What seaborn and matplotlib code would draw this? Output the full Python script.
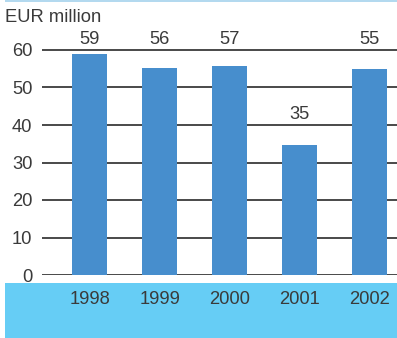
import matplotlib
matplotlib.use("Agg")
import matplotlib.pyplot as plt
import seaborn as sns
import pandas as pd
from matplotlib.patches import Rectangle

years = ["1998", "1999", "2000", "2001", "2002"]
bar_values = [58.9, 55.2, 55.7, 34.7, 54.9]
labels = [59, 56, 57, 35, 55]
yticks = [0, 10, 20, 30, 40, 50, 60]

sns.set_theme(style="white")
plt.rcParams["font.family"] = ["Liberation Sans", "DejaVu Sans"]

W, H = 397, 338
FS = 13.2
TC = "#3a3a3a"
fig = plt.figure(figsize=(W / 100, H / 100), dpi=100)
fig.patch.set_facecolor("white")

def px(x0, y0, x1, y1):
    return [x0 / W, 1 - y1 / H, (x1 - x0) / W, (y1 - y0) / H]

# decorations
fig.add_artist(Rectangle((5 / W, 0), 1 - 5 / W, 55 / H, transform=fig.transFigure,
                         facecolor="#66cdf5", edgecolor="none", zorder=0))
fig.add_artist(Rectangle((5 / W, 1 - 2 / H), 1 - 5 / W, 2 / H, transform=fig.transFigure,
                         facecolor="#b3d9ef", edgecolor="none", zorder=0))

ax = fig.add_axes(px(42, 30, 397, 275))
ax.set_facecolor("none")
df = pd.DataFrame({"year": years, "value": bar_values})
sns.barplot(data=df, x="year", y="value", color="#478ecd", width=0.5,
            saturation=1, ax=ax, zorder=3)
for p in ax.patches:
    p.set_edgecolor("none")

ax.set_ylim(0, 245 / 3.75)
ax.set_xlim(-0.686, 4.4)
ax.set_yticks(yticks)
ax.yaxis.grid(True, color="#3a3a3a", linewidth=1.3)
ax.set_axisbelow(True)
for s in ax.spines.values():
    s.set_visible(False)
ax.set_xlabel("")
ax.set_ylabel("")
ax.tick_params(axis="y", length=0, pad=7.0, labelsize=FS, labelcolor=TC)
ax.tick_params(axis="x", length=0, pad=11.5, labelsize=FS, labelcolor=TC)

for i, (v, lab) in enumerate(zip(bar_values, labels)):
    ax.text(i, min(v + 8.2, 62.8), str(lab), ha="center", va="center",
            fontsize=FS, color=TC)

fig.text(5 / W, 1 - 18 / H, "EUR million", ha="left", va="center",
         fontsize=FS, color=TC)

fig.savefig("out.png", dpi=100)
